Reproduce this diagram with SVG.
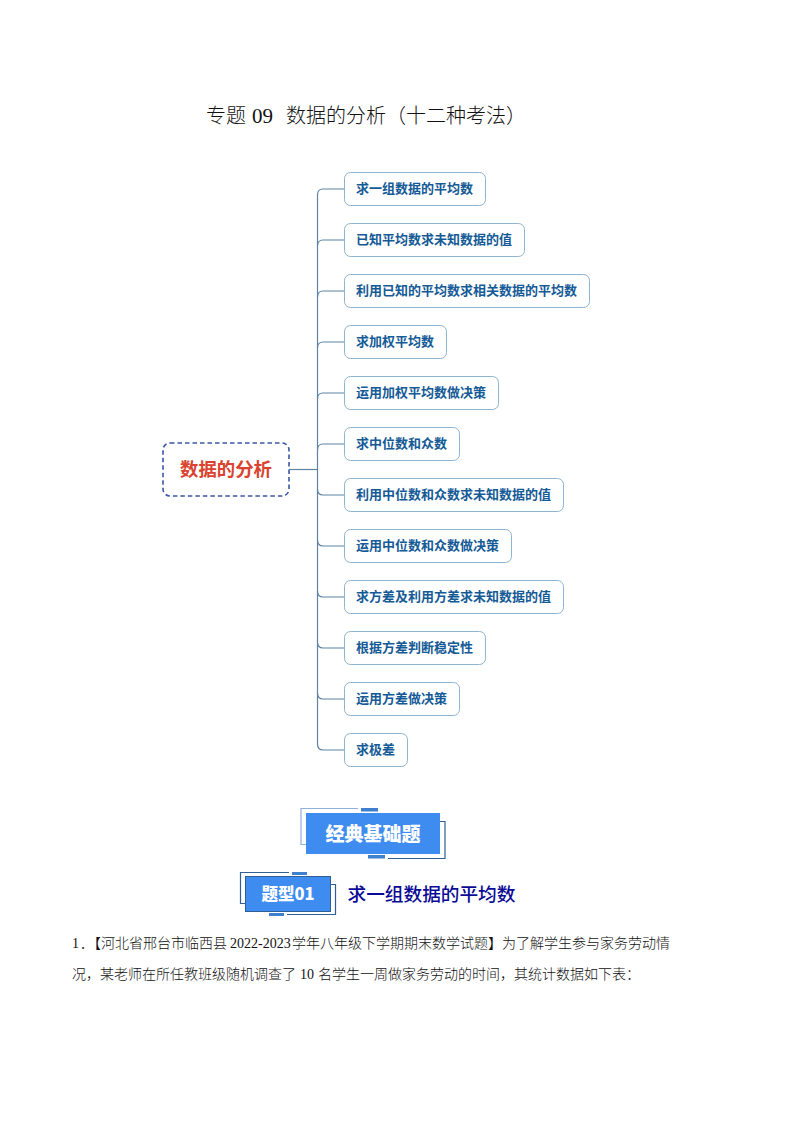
<svg xmlns="http://www.w3.org/2000/svg" width="794" height="1123" viewBox="0 0 794 1123">
<style>
text{font-family:"Noto Sans CJK SC","Liberation Sans",sans-serif}
.box{fill:#fff;stroke:#8fb4cf;stroke-width:1}
.lab{font-size:13px;font-weight:700;fill:#145a96;dominant-baseline:central}
.con{fill:none;stroke:#5f84a3;stroke-width:1.2}
.song{font-weight:300;fill:#111}
.num{font-family:"Liberation Serif",serif;font-weight:400}
.blue{fill:#3f8cf0}
.tag{font-weight:900;fill:#fff;text-anchor:middle}
.ln{fill:none;stroke:#2f5f96;stroke-width:1.2}
.ln2{fill:none;stroke:#8fb0dc;stroke-width:1.2}
</style>
<rect width="794" height="1123" fill="#fff"/>
<text id="title" class="song" y="123" font-size="20"><tspan x="206">专题</tspan><tspan class="num" x="252" font-size="21">09</tspan><tspan x="286">数据的分析（十二种考法）</tspan></text>
<g id="connectors">
<path class="con" d="M289 469.500H317.500"/>
<path class="con" d="M344.500 189H323Q317.500 189 317.500 195V744Q317.500 750 323 750H344.500"/>
<path class="con" d="M344.500 240H323Q317.500 240 317.500 246M344.500 291H323Q317.500 291 317.500 297M344.500 342H323Q317.500 342 317.500 348M344.500 393H323Q317.500 393 317.500 399M344.500 444H323Q317.500 444 317.500 450"/>
<path class="con" d="M317.500 489Q317.500 495 323 495H344.500M317.500 540Q317.500 546 323 546H344.500M317.500 591Q317.500 597 323 597H344.500M317.500 642Q317.500 648 323 648H344.500M317.500 693Q317.500 699 323 699H344.500"/>
</g>
<g id="root"><rect x="163" y="443" width="126" height="53" rx="7" fill="#fff" stroke="#3b57a8" stroke-width="1.6" stroke-dasharray="4.500 3"/><text x="226" y="468" font-size="18.400" font-weight="700" fill="#d9432f" text-anchor="middle" dominant-baseline="central">数据的分析</text></g>
<g id="n1"><rect class="box" x="344.500" y="172.500" width="141" height="33" rx="6"/><text class="lab" x="356" y="187.500">求一组数据的平均数</text></g>
<g id="n2"><rect class="box" x="344.500" y="223.500" width="180" height="33" rx="6"/><text class="lab" x="356" y="238.500">已知平均数求未知数据的值</text></g>
<g id="n3"><rect class="box" x="344.500" y="274.500" width="245" height="33" rx="6"/><text class="lab" x="356" y="289.500">利用已知的平均数求相关数据的平均数</text></g>
<g id="n4"><rect class="box" x="344.500" y="325.500" width="102" height="33" rx="6"/><text class="lab" x="356" y="340.500">求加权平均数</text></g>
<g id="n5"><rect class="box" x="344.500" y="376.500" width="154" height="33" rx="6"/><text class="lab" x="356" y="391.500">运用加权平均数做决策</text></g>
<g id="n6"><rect class="box" x="344.500" y="427.500" width="115" height="33" rx="6"/><text class="lab" x="356" y="442.500">求中位数和众数</text></g>
<g id="n7"><rect class="box" x="344.500" y="478.500" width="219" height="33" rx="6"/><text class="lab" x="356" y="493.500">利用中位数和众数求未知数据的值</text></g>
<g id="n8"><rect class="box" x="344.500" y="529.500" width="167" height="33" rx="6"/><text class="lab" x="356" y="544.500">运用中位数和众数做决策</text></g>
<g id="n9"><rect class="box" x="344.500" y="580.500" width="219" height="33" rx="6"/><text class="lab" x="356" y="595.500">求方差及利用方差求未知数据的值</text></g>
<g id="n10"><rect class="box" x="344.500" y="631.500" width="141" height="33" rx="6"/><text class="lab" x="356" y="646.500">根据方差判断稳定性</text></g>
<g id="n11"><rect class="box" x="344.500" y="682.500" width="115" height="33" rx="6"/><text class="lab" x="356" y="697.500">运用方差做决策</text></g>
<g id="n12"><rect class="box" x="344.500" y="733.500" width="63" height="33" rx="6"/><text class="lab" x="356" y="748.500">求极差</text></g>
<g id="banner">
<path class="ln2" d="M358 808.500H301V844.500H306"/>
<path class="ln" d="M440 821.500H445V858.500H388"/>
<rect x="361" y="808" width="17" height="3.500" fill="#3f7fd0"/>
<rect x="368" y="855" width="17" height="3.500" fill="#3f7fd0"/>
<rect class="blue" x="306" y="813" width="134" height="41"/>
<text class="tag" x="373" y="841" font-size="19">经典基础题</text>
</g>
<g id="tag01">
<path class="ln" d="M245 903.500H240.500V872.500H289"/>
<path class="ln" d="M331 884.500H335.500V914.500H287"/>
<rect x="292" y="872" width="15" height="3" fill="#3f7fd0"/>
<rect x="269" y="913" width="15" height="3" fill="#3f7fd0"/>
<rect class="blue" x="245.500" y="876.500" width="85" height="35" stroke="#2f5f96"/>
<text class="tag" x="288" y="900" font-size="16.500">题型01</text>
</g>
<text id="heading" x="347.500" y="901" font-size="18.670" font-weight="500" fill="#0a0a96">求一组数据的平均数</text>
<text id="line1" class="song" y="948" font-size="14"><tspan class="num" x="72">1</tspan><tspan x="80">．【河北省邢台市临西县</tspan><tspan class="num" x="230">2022-2023</tspan><tspan x="292">学年八年级下学期期末数学试题】为了解学生参与家务劳动情</tspan></text>
<text id="line2" class="song" y="979" font-size="14"><tspan x="72">况，某老师在所任教班级随机调查了</tspan><tspan class="num" x="300">10</tspan><tspan x="318">名学生一周做家务劳动的时间，其统计数据如下表：</tspan></text>
</svg>
